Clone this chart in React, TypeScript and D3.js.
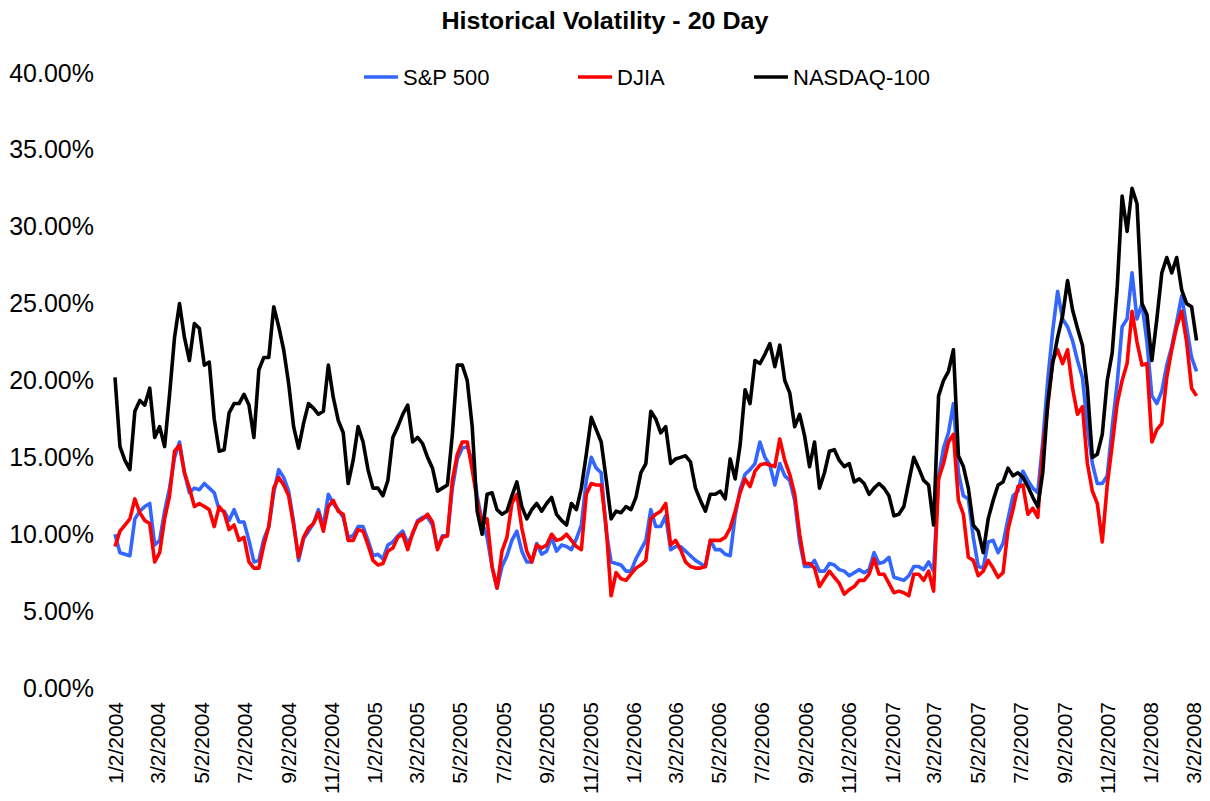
import React, { useRef, useEffect } from 'react';
import * as d3 from 'd3';

// weekly samples, in percent, starting 1/2/2004
const spx: number[] = [
  10.0, 8.8, 8.7, 8.6, 11.0, 11.5, 11.8, 12.0, 9.3, 9.6, 11.5, 13.0, 15.0, 16.0, 14.0, 12.7, 13.0, 12.9, 13.3, 13.0,
  12.7, 11.6, 11.5, 10.9, 11.6, 10.8, 10.8, 9.6, 8.2, 8.3, 9.7, 10.5, 12.7, 14.2, 13.7, 12.8,
  10.8, 8.3, 9.7, 10.2, 10.7, 11.6, 10.5, 12.6, 12.0, 11.6, 11.1, 9.8, 9.9, 10.5, 10.5, 9.6, 8.6, 8.7, 8.4, 9.3,
  9.5, 9.9, 10.2, 9.4, 10.0, 10.9, 11.1, 11.1, 10.6, 9.1, 9.9, 9.9, 13.0, 14.9, 15.6, 15.7,
  14.8, 12.5, 10.8, 9.8, 7.9, 6.5, 7.9, 8.6, 9.6, 10.2, 8.9, 8.2, 8.2, 9.4, 8.7, 8.9, 9.8, 8.9, 9.3, 9.2,
  9.0, 9.7, 10.6, 13.5, 15.0, 14.3, 14.0, 10.2, 8.2, 8.1, 8.0, 7.6, 7.6, 8.4, 9.0, 9.6, 11.6,
  10.5, 10.5, 11.2, 9.0, 9.2, 9.2, 8.9, 8.6, 8.3, 8.1, 7.9, 9.6, 9.0, 9.0, 8.7, 8.6, 11.2, 12.9, 13.9, 14.2,
  14.6, 16.0, 15.0, 14.5, 13.2, 14.6, 13.8, 13.5, 12.2, 9.5, 7.9, 7.9, 8.3, 7.6, 7.6, 8.1,
  8.0, 7.7, 7.6, 7.3, 7.5, 7.7, 7.5, 7.7, 8.8, 8.1, 8.2, 8.5, 7.2, 7.1, 7.0, 7.3, 7.9, 7.9, 7.7, 8.2,
  7.6, 13.7, 15.6, 16.6, 18.5, 14.0, 12.5, 12.3, 9.8, 7.9, 7.8, 9.5, 9.6, 8.8, 9.4,
  11.0, 12.5, 12.8, 14.1, 13.5, 13.0, 12.7, 16.0, 20.0, 23.2, 25.8, 24.0, 23.5, 22.6, 21.3, 20.2, 17.0, 14.6, 13.3, 13.3,
  13.8, 17.0, 19.8, 23.5, 24.0, 27.0, 24.0, 25.0, 22.5, 19.0, 18.5, 19.3, 21.0, 22.2, 23.8, 25.5, 23.5, 21.5, 20.6,
];

const djia: number[] = [
  9.2, 10.2, 10.6, 11.0, 12.3, 11.4, 10.9, 10.7, 8.2, 8.8, 11.0, 12.5, 15.4, 15.8, 14.0, 13.0, 11.8, 12.0, 11.8, 11.6,
  10.5, 11.8, 11.4, 10.3, 10.6, 9.6, 9.8, 8.2, 7.8, 7.8, 9.3, 10.5, 13.0, 13.7, 13.2, 12.5,
  10.6, 8.5, 9.8, 10.4, 10.7, 11.4, 10.2, 11.8, 12.2, 11.5, 11.3, 9.6, 9.6, 10.3, 10.2, 9.3, 8.3, 8.0, 8.1, 8.9,
  9.1, 9.8, 10.0, 9.0, 10.1, 10.8, 11.0, 11.3, 10.8, 9.0, 9.8, 9.9, 13.5, 15.2, 16.0, 16.0,
  14.2, 12.2, 10.5, 11.0, 7.9, 6.5, 8.9, 9.8, 12.0, 12.6, 10.4, 8.9, 8.2, 9.3, 9.1, 9.3, 10.0, 9.6, 9.7, 10.0,
  9.6, 9.2, 9.0, 12.6, 13.3, 13.2, 13.2, 10.5, 6.0, 7.5, 7.1, 7.0, 7.4, 7.8, 8.0, 8.3, 11.0,
  11.3, 11.5, 12.0, 9.3, 9.6, 9.0, 8.2, 7.9, 7.8, 7.8, 7.9, 9.6, 9.6, 9.6, 9.8, 10.4, 11.5, 12.7, 13.6, 13.1,
  14.1, 14.5, 14.6, 14.5, 14.4, 16.2, 14.8, 13.9, 12.6, 10.0, 8.1, 8.1, 7.8, 6.6, 7.1, 7.6,
  7.2, 6.8, 6.1, 6.4, 6.6, 7.0, 7.0, 7.4, 8.4, 7.4, 7.4, 6.8, 6.2, 6.3, 6.2, 6.0, 7.4, 7.4, 7.0, 7.6,
  6.3, 13.6, 14.6, 16.0, 16.5, 12.2, 11.3, 8.5, 8.3, 7.3, 7.6, 8.3, 7.8, 7.2, 7.5,
  10.3, 11.6, 13.1, 13.2, 11.3, 11.7, 11.1, 15.5, 18.3, 21.3, 22.0, 21.1, 22.0, 19.5, 17.8, 18.3, 14.6, 12.8, 12.0, 9.5,
  13.2, 15.8, 18.5, 20.0, 21.1, 24.5, 22.5, 21.0, 21.1, 16.0, 16.8, 17.2, 20.2, 22.0, 23.5, 24.5, 22.5, 19.5, 19.0,
];

const ndx: number[] = [
  20.2, 15.7, 14.8, 14.2, 18.0, 18.7, 18.4, 19.5, 16.3, 17.0, 15.7, 19.1, 22.8, 25.0, 22.8, 21.3, 23.7, 23.4, 21.0, 21.2,
  17.5, 15.4, 15.5, 17.9, 18.5, 18.5, 19.1, 18.4, 16.3, 20.7, 21.5, 21.5, 24.8, 23.5, 22.0, 19.8,
  17.0, 15.6, 17.2, 18.5, 18.2, 17.8, 18.0, 21.0, 18.9, 17.4, 16.6, 13.3, 14.8, 17.0, 16.0, 14.2, 13.0, 13.0, 12.5, 13.5,
  16.3, 17.0, 17.8, 18.4, 16.0, 16.3, 15.9, 15.0, 14.3, 12.8, 13.0, 13.2, 16.5, 21.0, 21.0, 20.0,
  17.0, 11.5, 10.0, 12.6, 12.7, 11.6, 11.3, 11.5, 12.5, 13.4, 11.8, 11.0, 11.6, 12.0, 11.5, 12.0, 12.4, 11.3, 10.9, 10.6,
  12.0, 11.6, 13.0, 15.2, 17.6, 16.8, 16.0, 13.6, 11.0, 11.5, 11.4, 11.8, 11.6, 12.4, 14.0, 14.6, 18.0,
  17.5, 16.6, 17.0, 14.6, 14.9, 15.0, 15.1, 14.7, 13.0, 12.2, 11.5, 12.6, 12.6, 12.8, 12.3, 14.9, 13.6, 15.8, 19.4, 18.5,
  21.3, 21.1, 21.7, 22.4, 20.9, 22.3, 20.0, 19.2, 17.0, 17.8, 16.4, 14.4, 16.0, 13.0, 14.0, 15.4,
  15.5, 14.8, 14.4, 14.6, 13.4, 13.6, 13.3, 12.6, 13.0, 13.3, 13.0, 12.5, 11.2, 11.3, 11.8, 13.4, 15.0, 14.3, 13.5, 13.2,
  10.6, 19.0, 20.0, 20.6, 22.0, 15.1, 14.4, 13.0, 10.6, 10.2, 8.8, 11.0, 12.2, 13.2, 13.4,
  14.3, 13.8, 14.0, 13.7, 13.1, 12.4, 11.8, 14.0, 18.5, 21.1, 22.8, 24.2, 26.5, 24.6, 23.4, 22.3, 19.5, 15.0, 15.2, 16.5,
  20.0, 21.8, 26.0, 32.0, 29.7, 32.5, 31.5, 25.0, 24.3, 21.3, 24.0, 27.0, 28.0, 27.0, 28.0, 25.9, 25.0, 24.8, 22.6,
];

const xTickLabels = [
  '1/2/2004', '3/2/2004', '5/2/2004', '7/2/2004', '9/2/2004', '11/2/2004',
  '1/2/2005', '3/2/2005', '5/2/2005', '7/2/2005', '9/2/2005', '11/2/2005',
  '1/2/2006', '3/2/2006', '5/2/2006', '7/2/2006', '9/2/2006', '11/2/2006',
  '1/2/2007', '3/2/2007', '5/2/2007', '7/2/2007', '9/2/2007', '11/2/2007',
  '1/2/2008', '3/2/2008',
];
const yTicks = [0, 5, 10, 15, 20, 25, 30, 35, 40];

const seriesNames = ['S&P 500', 'DJIA', 'NASDAQ-100'];
const seriesColors = ['#3366ff', '#ff0000', '#000000'];

const W = 1210;
const H = 801;
const FONT = '"Liberation Sans", Arial, sans-serif';

export default function App() {
  const svgRef = useRef<SVGSVGElement>(null);

  useEffect(() => {
    if (!svgRef.current) return;
    const svg = d3.select(svgRef.current);
    svg.selectAll('*').remove();

    const parse = d3.timeParse('%-m/%-d/%Y');
    const tickDates = xTickLabels.map(s => parse(s) as Date);
    const start = tickDates[0];
    const dates = spx.map((_, i) => d3.timeDay.offset(start, i * 7));

    const x = d3.scaleTime()
      .domain([tickDates[0], tickDates[tickDates.length - 1]])
      .range([115, 1193]);
    const y = d3.scaleLinear().domain([0, 40]).range([688, 73]);

    //title
    svg.append('text')
      .attr('x', 605)
      .attr('y', 29)
      .attr('text-anchor', 'middle')
      .attr('font-family', FONT)
      .attr('font-weight', 'bold')
      .attr('font-size', 24)
      .attr('textLength', 327)
      .attr('lengthAdjust', 'spacingAndGlyphs')
      .text('Historical Volatility - 20 Day');

    //y axis (labels only)
    const yAxis = d3.axisLeft(y)
      .tickValues(yTicks)
      .tickSize(0)
      .tickPadding(0)
      .tickFormat(d => `${(+d).toFixed(2)}%`);
    const yg = svg.append('g')
      .attr('transform', 'translate(94,0)')
      .call(yAxis);
    yg.select('.domain').remove();
    yg.selectAll('text')
      .attr('font-family', FONT)
      .attr('font-size', 25)
      .attr('fill', '#000');

    //x axis (rotated labels only)
    const xAxis = d3.axisBottom(x)
      .tickValues(tickDates)
      .tickSize(0)
      .tickFormat((_, i) => xTickLabels[i]);
    const xg = svg.append('g')
      .attr('transform', 'translate(0,702)')
      .call(xAxis);
    xg.select('.domain').remove();
    xg.selectAll('text')
      .attr('font-family', FONT)
      .attr('font-size', 21)
      .attr('fill', '#000')
      .attr('text-anchor', 'end')
      .attr('dy', '0.35em')
      .attr('y', 0)
      .attr('x', 0)
      .attr('transform', 'rotate(-90)');

    //lines
    const line = d3.line<number>()
      .x((_, i) => x(dates[i]))
      .y(d => y(d));

    const all = [spx, djia, ndx];
    all.forEach((vals, si) => {
      svg.append('path')
        .datum(vals)
        .attr('fill', 'none')
        .attr('stroke', seriesColors[si])
        .attr('stroke-width', 3.6)
        .attr('stroke-linejoin', 'round')
        .attr('d', line);
    });

    //legend
    const legendX = [364, 578, 754];
    const lg = svg.append('g');
    seriesNames.forEach((name, i) => {
      lg.append('line')
        .attr('x1', legendX[i])
        .attr('x2', legendX[i] + 34)
        .attr('y1', 77)
        .attr('y2', 77)
        .attr('stroke', seriesColors[i])
        .attr('stroke-width', 3.5);
      lg.append('text')
        .attr('x', legendX[i] + 39)
        .attr('y', 85)
        .attr('font-family', FONT)
        .attr('font-size', 22)
        .attr('fill', '#000')
        .text(name);
    });
  }, []);

  return (
    <svg
      ref={svgRef}
      width={W}
      height={H}
      style={{ position: 'absolute', left: 0, top: 0, background: '#fff' }}
    />
  );
}
